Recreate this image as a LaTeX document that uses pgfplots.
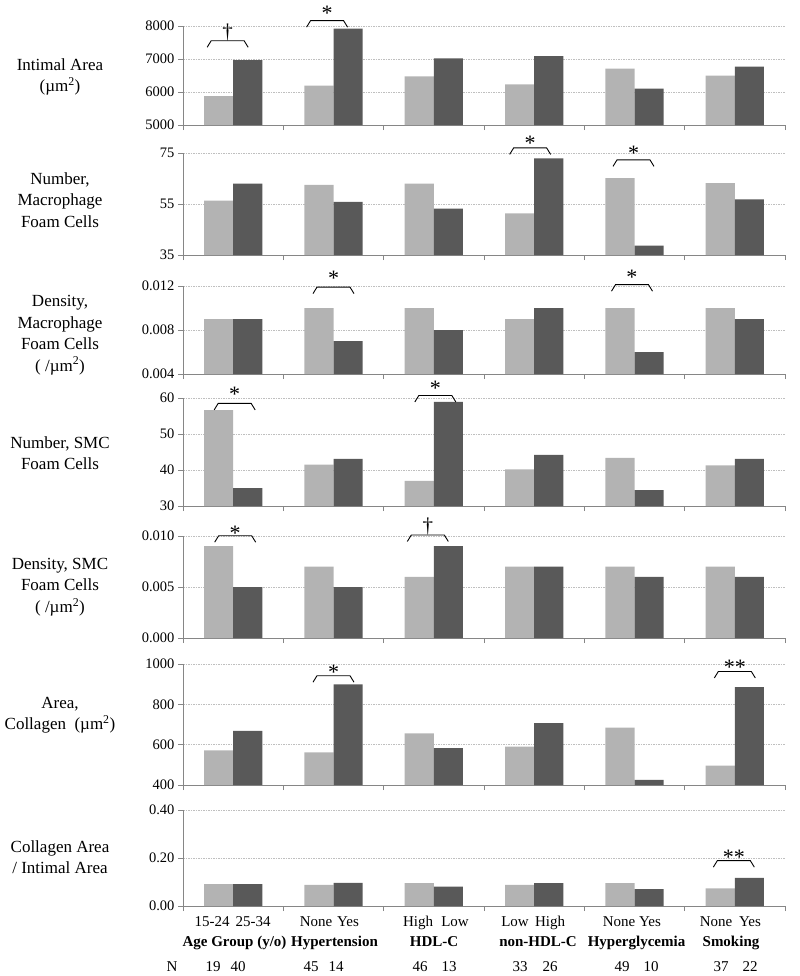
\documentclass[border=0pt]{standalone}
\usepackage{fontspec}
\setmainfont{Liberation Serif}
\usepackage{pgfplots}
\pgfplotsset{compat=1.18}
\definecolor{lightbar}{RGB}{179,179,179}
\definecolor{darkbar}{RGB}{89,89,89}
\definecolor{axgray}{RGB}{134,134,134}
\pgfplotsset{panel/.style={
  scale only axis, width=602bp, xmin=-0.5, xmax=5.5,
  axis x line*=bottom, axis y line*=left,
  axis line style={axgray, line width=0.8bp, -},
  xtick={-0.5,0.5,1.5,2.5,3.5,4.5,5.5}, xticklabels={},
  tick align=outside, major tick length=5bp,
  tick style={axgray, line width=0.8bp},
  ymajorgrids, grid style={gray!50, line width=0.7bp, dash pattern=on 1.5bp off 1bp},
  yticklabel style={font=\fontsize{14.5bp}{16bp}\selectfont, text=black},
  scaled y ticks=false,
  clip mode=individual,
  anchor=south west,
},
lb/.style={ybar, bar width=0.29, bar shift=-0.145, fill=lightbar, draw=none},
db/.style={ybar, bar width=0.29, bar shift=0.145, fill=darkbar, draw=none},
}
\tikzset{
  brk/.style={black, line width=0.9bp},
  sig/.style={font=\fontsize{22bp}{22bp}\selectfont, inner sep=0pt, yshift=-3bp},
  dag/.style={font=\fontsize{21bp}{21bp}\selectfont, inner sep=0pt, anchor=south},
  lab/.style={font=\fontsize{17bp}{21.5bp}\selectfont, align=center},
  cat/.style={font=\fontsize{15bp}{16bp}\selectfont, anchor=base},
  grp/.style={font=\fontsize{15bp}{16bp}\selectfont\bfseries, anchor=base},
}
\newcommand{\bracket}[2]{\draw[brk] (axis cs:#1,#2) ++(-20.5bp,-6.5bp) -- ++(4bp,6.5bp) -- ++(33bp,0bp) -- ++(4bp,-6.5bp);}
\begin{document}
\begin{tikzpicture}
\path[use as bounding box] (0,0) rectangle (800bp,-976bp);

% Panel 1
\begin{axis}[panel, at={(183bp,-125bp)}, height=99bp, ymin=5000, ymax=8000,
  ytick={5000,6000,7000,8000}, yticklabels={5000,6000,7000,8000}]
\addplot[lb] coordinates {(0,5875) (1,6190) (2,6475) (3,6230) (4,6710) (5,6495)};
\addplot[db] coordinates {(0,6965) (1,7920) (2,7020) (3,7085) (4,6100) (5,6770)};
\bracket{-0.055}{7552}
\node[dag] at (axis cs:-0.055,7552) {†};
\bracket{0.936}{8163}
\node[sig] at (axis cs:0.936,8488) {*};
\end{axis}

% Panel 2
\begin{axis}[panel, at={(183bp,-255bp)}, height=102bp, ymin=35, ymax=75,
  ytick={35,55,75}, yticklabels={35,55,75}]
\addplot[lb] coordinates {(0,56.3) (1,62.5) (2,63.0) (3,51.3) (4,65.1) (5,63.2)};
\addplot[db] coordinates {(0,63.0) (1,55.8) (2,53.2) (3,72.9) (4,38.7) (5,56.8)};
\bracket{2.96}{77}
\node[sig] at (axis cs:2.96,79.8) {*};
\bracket{3.99}{72.3}
\node[sig] at (axis cs:3.99,75.9) {*};
\end{axis}

% Panel 3
\begin{axis}[panel, at={(183bp,-374bp)}, height=88bp, ymin=0.004, ymax=0.012,
  ytick={0.004,0.008,0.012}, yticklabels={0.004,0.008,0.012}]
\addplot[lb] coordinates {(0,0.009) (1,0.010) (2,0.010) (3,0.009) (4,0.010) (5,0.010)};
\addplot[db] coordinates {(0,0.009) (1,0.007) (2,0.008) (3,0.010) (4,0.006) (5,0.009)};
\bracket{1.0}{0.0119}
\node[sig] at (axis cs:1.0,0.01295) {*};
\bracket{3.975}{0.01212}
\node[sig] at (axis cs:3.975,0.01305) {*};
\end{axis}

% Panel 4
\begin{axis}[panel, at={(183bp,-506bp)}, height=108bp, ymin=30, ymax=60,
  ytick={30,40,50,60}, yticklabels={30,40,50,60}]
\addplot[lb] coordinates {(0,56.6) (1,41.5) (2,37.0) (3,40.2) (4,43.4) (5,41.3)};
\addplot[db] coordinates {(0,35.0) (1,43.1) (2,58.9) (3,44.2) (4,34.4) (5,43.1)};
\bracket{0.015}{58.5}
\node[sig] at (axis cs:0.015,62) {*};
\bracket{2.015}{60.7}
\node[sig] at (axis cs:2.015,63.5) {*};
\end{axis}

% Panel 5
\begin{axis}[panel, at={(183bp,-638bp)}, height=102bp, ymin=0, ymax=0.010,
  ytick={0,0.005,0.010}, yticklabels={0.000,0.005,0.010}]
\addplot[lb] coordinates {(0,0.009) (1,0.007) (2,0.006) (3,0.007) (4,0.007) (5,0.007)};
\addplot[db] coordinates {(0,0.005) (1,0.005) (2,0.009) (3,0.007) (4,0.006) (5,0.006)};
\bracket{0.02}{0.01003}
\node[sig] at (axis cs:0.02,0.0106) {*};
\bracket{1.94}{0.0101}
\node[dag] at (axis cs:1.94,0.0101) {†};
\end{axis}

% Panel 6
\begin{axis}[panel, at={(183bp,-785bp)}, height=121bp, ymin=400, ymax=1000,
  ytick={400,600,800,1000}, yticklabels={400,600,800,1000}]
\addplot[lb] coordinates {(0,572) (1,562) (2,656) (3,590) (4,684) (5,496)};
\addplot[db] coordinates {(0,669) (1,899) (2,583) (3,707) (4,425) (5,886)};
\bracket{1.0}{942}
\node[sig] at (axis cs:1.0,972) {*};
\bracket{5.0}{963}
\node[sig] at (axis cs:5.0,997) {**};
\end{axis}

% Panel 7
\begin{axis}[panel, at={(183bp,-906bp)}, height=96bp, ymin=0, ymax=0.4,
  ytick={0,0.2,0.4}, yticklabels={0.00,0.20,0.40}]
\addplot[lb] coordinates {(0,0.091) (1,0.088) (2,0.095) (3,0.088) (4,0.095) (5,0.074)};
\addplot[db] coordinates {(0,0.091) (1,0.096) (2,0.081) (3,0.095) (4,0.070) (5,0.117)};
\bracket{4.99}{0.189}
\node[sig] at (axis cs:4.99,0.214) {**};
\end{axis}

% left labels
\node[lab] at (60bp,-77bp) {Intimal Area\\(µm\textsuperscript{2})};
\node[lab] at (60bp,-200bp) {Number,\\Macrophage\\Foam Cells};
\node[lab] at (60bp,-335bp) {Density,\\Macrophage\\Foam Cells\\( /µm\textsuperscript{2})};
\node[lab] at (60bp,-453bp) {Number, SMC\\Foam Cells};
\node[lab] at (60bp,-587bp) {Density, SMC\\Foam Cells\\( /µm\textsuperscript{2})};
\node[lab] at (60bp,-715bp) {Area,\\Collagen\ \ (µm\textsuperscript{2})};
\node[lab] at (60bp,-857bp) {Collagen Area\\/ Intimal Area};

% category labels
\node[cat] at (212bp,-926.5bp) {15-24};
\node[cat] at (253bp,-926.5bp) {25-34};
\node[cat] at (316bp,-926.5bp) {None};
\node[cat] at (348bp,-926.5bp) {Yes};
\node[cat] at (418bp,-926.5bp) {High};
\node[cat] at (455bp,-926.5bp) {Low};
\node[cat] at (515bp,-926.5bp) {Low};
\node[cat] at (550bp,-926.5bp) {High};
\node[cat] at (619bp,-926.5bp) {None};
\node[cat] at (650bp,-926.5bp) {Yes};
\node[cat] at (716bp,-926.5bp) {None};
\node[cat] at (750bp,-926.5bp) {Yes};

% group names
\node[grp] at (234.5bp,-946.5bp) {Age Group (y/o)};
\node[grp] at (334.5bp,-946.5bp) {Hypertension};
\node[grp] at (434bp,-946.5bp) {HDL-C};
\node[grp] at (538bp,-946.5bp) {non-HDL-C};
\node[grp] at (636.5bp,-946.5bp) {Hyperglycemia};
\node[grp] at (731bp,-946.5bp) {Smoking};

% N row
\node[cat] at (172bp,-971.5bp) {N};
\node[cat] at (213bp,-971.5bp) {19};
\node[cat] at (238bp,-971.5bp) {40};
\node[cat] at (311bp,-971.5bp) {45};
\node[cat] at (336bp,-971.5bp) {14};
\node[cat] at (420bp,-971.5bp) {46};
\node[cat] at (449bp,-971.5bp) {13};
\node[cat] at (520bp,-971.5bp) {33};
\node[cat] at (550bp,-971.5bp) {26};
\node[cat] at (622bp,-971.5bp) {49};
\node[cat] at (651bp,-971.5bp) {10};
\node[cat] at (721bp,-971.5bp) {37};
\node[cat] at (750bp,-971.5bp) {22};
\end{tikzpicture}
\end{document}
